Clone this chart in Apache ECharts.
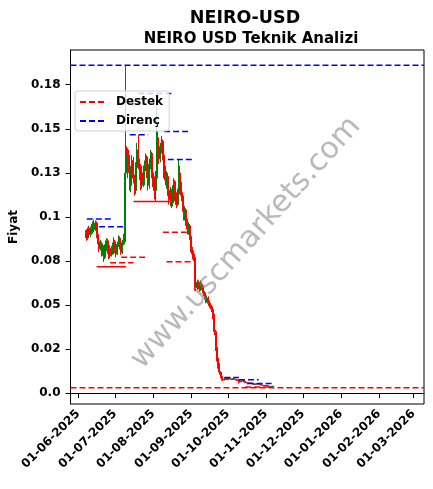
<!DOCTYPE html>
<html><head><meta charset="utf-8">
<script src="https://cdn.jsdelivr.net/npm/echarts@6/dist/echarts.min.js"></script>
<style>html,body{margin:0;padding:0;background:#fff}#c{width:433px;height:489px}</style>
</head><body><div id="c"></div>
<script>
const FONT = 'DejaVu Sans';
// Candles per month: [day, open, close, low, high]
const jun2025 = [
[7,0.0895,0.0910,0.0880,0.0925],[8,0.0910,0.0880,0.0865,0.0930],[9,0.0880,0.0925,0.0870,0.0940],
[10,0.0925,0.0900,0.0890,0.0950],[11,0.0900,0.0935,0.0885,0.0945],[12,0.0935,0.0915,0.0900,0.0960],
[13,0.0915,0.0950,0.0905,0.0975],[14,0.0950,0.0930,0.0915,0.0985],[15,0.0930,0.0965,0.0920,0.0980],
[16,0.0965,0.0900,0.0880,0.0975],[17,0.0900,0.0860,0.0845,0.0915],[18,0.0860,0.0820,0.0800,0.0880],
[19,0.0820,0.0850,0.0810,0.0870],[20,0.0850,0.0790,0.0775,0.0860],[21,0.0790,0.0830,0.0780,0.0845],
[22,0.0830,0.0770,0.0745,0.0840],[23,0.0770,0.0820,0.0760,0.0845],[24,0.0820,0.0865,0.0805,0.0880],
[25,0.0865,0.0800,0.0790,0.0875],[26,0.0800,0.0780,0.0760,0.0830],[27,0.0780,0.0820,0.0765,0.0840],
[28,0.0820,0.0790,0.0775,0.0835],[29,0.0790,0.0830,0.0785,0.0855],[30,0.0830,0.0860,0.0815,0.0885]
];
const jul2025 = [
[1,0.0860,0.0810,0.0795,0.0870],[2,0.0810,0.0790,0.0770,0.0825],[3,0.0790,0.0845,0.0785,0.0860],
[4,0.0845,0.0880,0.0830,0.0895],[5,0.0880,0.0830,0.0815,0.0890],[6,0.0830,0.0800,0.0785,0.0845],
[7,0.0800,0.0855,0.0790,0.0870],[8,0.0855,0.0860,0.0840,0.0905],[9,0.0860,0.1200,0.0845,0.1250],
[10,0.1400,0.1250,0.1150,0.1860],[11,0.1250,0.1350,0.1220,0.1390],[12,0.1350,0.1280,0.1250,0.1380],
[13,0.1280,0.1180,0.1150,0.1300],[14,0.1180,0.1260,0.1140,0.1290],[15,0.1260,0.1320,0.1230,0.1350],
[16,0.1320,0.1220,0.1190,0.1340],[17,0.1220,0.1150,0.1120,0.1240],[18,0.1150,0.1280,0.1130,0.1310],
[19,0.1280,0.1380,0.1260,0.1420],[20,0.1380,0.1300,0.1270,0.1466],[21,0.1300,0.1240,0.1210,0.1330],
[22,0.1240,0.1180,0.1150,0.1270],[23,0.1180,0.1250,0.1160,0.1290],[24,0.1250,0.1200,0.1170,0.1280],
[25,0.1200,0.1290,0.1180,0.1320],[26,0.1290,0.1340,0.1260,0.1360],[27,0.1340,0.1260,0.1220,0.1350],
[28,0.1260,0.1180,0.1150,0.1280],[29,0.1180,0.1300,0.1160,0.1330],[30,0.1300,0.1360,0.1270,0.1380],
[31,0.1360,0.1250,0.1220,0.1370]
];
const aug2025 = [
[1,0.1250,0.1200,0.1170,0.1280],[2,0.1200,0.1150,0.1100,0.1230],[3,0.1150,0.1220,0.1090,0.1260],
[4,0.1220,0.1450,0.1200,0.1690],[5,0.1450,0.1400,0.1360,0.1485],[6,0.1400,0.1330,0.1300,0.1430],
[7,0.1330,0.1390,0.1310,0.1420],[8,0.1390,0.1430,0.1360,0.1460],[9,0.1430,0.1350,0.1320,0.1440],
[10,0.1350,0.1260,0.1220,0.1370],[11,0.1260,0.1210,0.1180,0.1290],[12,0.1210,0.1230,0.1160,0.1260],
[13,0.1230,0.1150,0.1120,0.1250],[14,0.1150,0.1100,0.1070,0.1180],[15,0.1100,0.1140,0.1060,0.1170],
[16,0.1140,0.1080,0.1050,0.1160],[17,0.1080,0.1150,0.1060,0.1180],[18,0.1150,0.1200,0.1110,0.1220],
[19,0.1200,0.1120,0.1090,0.1210],[20,0.1120,0.1070,0.1050,0.1140],[21,0.1070,0.1130,0.1060,0.1160],
[22,0.1130,0.1250,0.1110,0.1326],[23,0.1250,0.1180,0.1150,0.1290],[24,0.1180,0.1120,0.1090,0.1200],
[25,0.1120,0.1060,0.1030,0.1140],[26,0.1060,0.1010,0.0980,0.1080],[27,0.1010,0.1040,0.0980,0.1060],
[28,0.1040,0.0970,0.0950,0.1050],[29,0.0970,0.0930,0.0900,0.0990],[30,0.0930,0.0950,0.0900,0.0970],
[31,0.0950,0.0890,0.0870,0.0960]
];
const sep2025 = [
[1,0.0890,0.0820,0.0800,0.0900],[2,0.0820,0.0790,0.0760,0.0830],[3,0.0790,0.0770,0.0750,0.0810],
[4,0.0770,0.0620,0.0580,0.0780],[5,0.0620,0.0600,0.0580,0.0640],[6,0.0600,0.0630,0.0585,0.0645],
[7,0.0630,0.0610,0.0590,0.0640],[8,0.0610,0.0590,0.0575,0.0625],[9,0.0590,0.0620,0.0580,0.0640],
[10,0.0620,0.0600,0.0585,0.0630],[11,0.0600,0.0570,0.0550,0.0610],[12,0.0570,0.0550,0.0530,0.0580],
[13,0.0550,0.0530,0.0510,0.0560],[14,0.0530,0.0540,0.0515,0.0555],[15,0.0540,0.0510,0.0495,0.0550],
[16,0.0510,0.0500,0.0485,0.0525],[17,0.0500,0.0490,0.0475,0.0510],[18,0.0490,0.0475,0.0460,0.0500],
[19,0.0475,0.0440,0.0420,0.0490],[20,0.0440,0.0350,0.0330,0.0450],[21,0.0350,0.0260,0.0240,0.0360],
[22,0.0260,0.0200,0.0180,0.0270],[23,0.0200,0.0160,0.0140,0.0215],[24,0.0160,0.0120,0.0105,0.0170],
[25,0.0120,0.0095,0.0085,0.0125],[26,0.0095,0.0080,0.0072,0.0098],[27,0.0080,0.0076,0.0070,0.0086],
[28,0.0076,0.0080,0.0072,0.0089],[29,0.0080,0.0084,0.0075,0.0089],[30,0.0084,0.0078,0.0074,0.0088]
];
const oct2025 = [
[1,0.0078,0.0082,0.0075,0.0086],[2,0.0082,0.0086,0.0079,0.0089],[3,0.0086,0.0081,0.0077,0.0088],
[4,0.0081,0.0079,0.0075,0.0084],[5,0.0079,0.0083,0.0076,0.0086],[6,0.0083,0.0080,0.0076,0.0085],
[7,0.0080,0.0077,0.0073,0.0082],[8,0.0077,0.0074,0.0070,0.0079],[9,0.0074,0.0076,0.0071,0.0078],
[10,0.0076,0.0068,0.0055,0.0077],[11,0.0068,0.0065,0.0060,0.0072],[12,0.0065,0.0070,0.0063,0.0074],
[13,0.0070,0.0072,0.0067,0.0077],[14,0.0072,0.0066,0.0062,0.0074],[15,0.0066,0.0063,0.0058,0.0068],
[16,0.0063,0.0060,0.0056,0.0065],[17,0.0060,0.0055,0.0050,0.0062],[18,0.0055,0.0057,0.0052,0.0059],
[19,0.0057,0.0058,0.0054,0.0060],[20,0.0058,0.0056,0.0053,0.0061],[21,0.0056,0.0052,0.0049,0.0058],
[22,0.0052,0.0050,0.0047,0.0054],[23,0.0050,0.0052,0.0048,0.0054],[24,0.0052,0.0053,0.0050,0.0055],
[25,0.0053,0.0051,0.0049,0.0055],[26,0.0051,0.0053,0.0049,0.0055],[27,0.0053,0.0050,0.0047,0.0055],
[28,0.0050,0.0047,0.0044,0.0051],[29,0.0047,0.0045,0.0043,0.0049],[30,0.0045,0.0043,0.0040,0.0047],
[31,0.0043,0.0044,0.0041,0.0046]
];
const nov2025 = [
[1,0.0044,0.0045,0.0042,0.0047],[2,0.0045,0.0043,0.0041,0.0046],[3,0.0043,0.0040,0.0037,0.0044],
[4,0.0040,0.0037,0.0034,0.0041],[5,0.0037,0.0038,0.0035,0.0040],[6,0.0038,0.0039,0.0036,0.0041],
[7,0.0039,0.0040,0.0037,0.0042]
];

// Support (Destek) and resistance (Direnç) levels: [from, to, price]
const supportDashed = [
['2025-06-27','2025-07-16',0.0740],
['2025-07-06','2025-07-28',0.0772],
['2025-08-09','2025-08-30',0.0913],
['2025-08-12','2025-09-02',0.0746],
['2025-10-15','2025-11-05',0.0036]
];
const supportSolid = [
['2025-06-16','2025-07-10',0.0717],
['2025-07-16','2025-08-15',0.1087]
];
const resistanceDashed = [
['2025-06-08','2025-06-28',0.0989],
['2025-06-18','2025-07-08',0.0945],
['2025-07-13','2025-07-28',0.1466],
['2025-07-20','2025-08-18',0.1700],
['2025-08-10','2025-08-30',0.1485],
['2025-08-13','2025-09-02',0.1326],
['2025-09-28','2025-10-10',0.0089],
['2025-10-10','2025-10-26',0.0077],
['2025-10-17','2025-11-06',0.0055]
];
const fullSupport = 0.0031;
const fullResistance = 0.1860;

const xTickDates = ['2025-06-01','2025-07-01','2025-08-01','2025-09-01','2025-10-01','2025-11-01','2025-12-01','2026-01-01','2026-02-01','2026-03-01'];
const xTickLabels = ['01-06-2025','01-07-2025','01-08-2025','01-09-2025','01-10-2025','01-11-2025','01-12-2025','01-01-2026','01-02-2026','01-03-2026'];
const yTickValues = [0, 0.025, 0.05, 0.075, 0.1, 0.125, 0.15, 0.175];
const yTickLabels = ['0.0','0.02','0.05','0.08','0.1','0.13','0.15','0.18'];

function ts(s, h) { const p = s.split('-').map(Number); return new Date(p[0], p[1]-1, p[2], h || 0).getTime(); }
const xMin = ts('2025-05-25', 18);
const xMax = ts('2026-03-09', 16);
const xTickTs = xTickDates.map(d => ts(d));

const months = [[2025,6,jun2025],[2025,7,jul2025],[2025,8,aug2025],[2025,9,sep2025],[2025,10,oct2025],[2025,11,nov2025]];
const candles = [];
months.forEach(([y,m,rows]) => rows.forEach(r => candles.push([new Date(y,m-1,r[0]).getTime(), r[1], r[2], r[3], r[4]])));

function segData(list) {
  const out = [];
  list.forEach(s => { out.push([ts(s[0]), s[2]]); out.push([ts(s[1]), s[2]]); out.push([ts(s[1]), '-']); });
  return out;
}

const RED = '#ff0000', BLUE = '#0000ff';
const dash = [6, 3];
const chart = echarts.init(document.getElementById('c'));
chart.setOption({
  animation: false,
  backgroundColor: '#fff',
  title: [
    { text: 'NEIRO-USD', left: 240, textAlign: 'center', top: 4, textStyle: { fontFamily: FONT, fontWeight: 'bold', fontSize: 17.5, color: '#000' } },
    { text: 'NEIRO USD Teknik Analizi', left: 246, textAlign: 'center', top: 27, textStyle: { fontFamily: FONT, fontWeight: 'bold', fontSize: 15, color: '#000' } }
  ],
  legend: {
    orient: 'vertical', left: 75, top: 91,
    padding: [4, 6, 3, 4], itemGap: 5, itemWidth: 26, itemHeight: 14,
    backgroundColor: 'rgba(255,255,255,0.8)', borderColor: '#d0d0d0', borderWidth: 1, borderRadius: 3,
    itemStyle: { color: 'rgba(0,0,0,0)', borderColor: 'rgba(0,0,0,0)', borderWidth: 0, opacity: 0 },
    textStyle: { fontFamily: FONT, fontWeight: 'bold', fontSize: 12, color: '#000', padding: [0,0,0,5], lineHeight: 14 },
    data: ['Destek', 'Direnç']
  },
  grid: { left: 68, right: 9, top: 50, bottom: 85, show: true, borderColor: '#000', borderWidth: 1, backgroundColor: 'transparent' },
  xAxis: {
    type: 'value', min: xMin, max: xMax, scale: true,
    splitLine: { show: false },
    axisLine: { lineStyle: { color: '#000', width: 1 } },
    axisTick: { show: true, length: 5, lineStyle: { color: '#000' }, customValues: xTickTs },
    axisLabel: {
      customValues: xTickTs,
      rotate: 45, margin: 8, fontFamily: FONT, fontWeight: 'bold', fontSize: 12, color: '#000',
      formatter: (v) => { const i = xTickTs.indexOf(v); return i >= 0 ? xTickLabels[i] : ''; }
    }
  },
  yAxis: {
    type: 'value', min: -0.0061, max: 0.1947, scale: true,
    name: 'Fiyat', nameLocation: 'middle', nameGap: 45, nameRotate: 90,
    nameTextStyle: { fontFamily: FONT, fontWeight: 'bold', fontSize: 12, color: '#000' },
    splitLine: { show: false },
    axisLine: { show: true, lineStyle: { color: '#000', width: 1 } },
    axisTick: { show: true, length: 5, lineStyle: { color: '#000' }, customValues: yTickValues },
    axisLabel: {
      customValues: yTickValues, margin: 10, fontFamily: FONT, fontWeight: 'bold', fontSize: 12, color: '#000',
      formatter: (v) => { const i = yTickValues.findIndex(t => Math.abs(t - v) < 1e-9); return i >= 0 ? yTickLabels[i] : ''; }
    }
  },
  graphic: [{
    type: 'text', x: 246, y: 243, rotation: 48 * Math.PI / 180, z: 100,
    style: { text: 'www.uscmarkets.com', fontFamily: FONT, fontSize: 30, fill: 'rgba(128,128,128,0.55)', align: 'center', verticalAlign: 'middle' }
  }],
  series: [
    {
      type: 'candlestick', name: 'NEIRO-USD', data: candles, barWidth: 1.5,
      itemStyle: { color: '#008000', color0: RED, borderColor: '#008000', borderColor0: RED, borderWidth: 1 }
    },
    { type: 'line', name: 'Destek', symbol: 'none', connectNulls: false, data: segData(supportDashed).concat([[xMin, fullSupport],[xMax, fullSupport]]),
      lineStyle: { color: RED, width: 1.5, type: dash }, itemStyle: { color: RED } },
    { type: 'line', name: 'Destek', symbol: 'none', connectNulls: false, data: segData(supportSolid),
      lineStyle: { color: RED, width: 1.5, type: 'solid' }, itemStyle: { color: RED } },
    { type: 'line', name: 'Direnç', symbol: 'none', connectNulls: false, data: segData(resistanceDashed).concat([[xMin, fullResistance],[xMax, fullResistance]]),
      lineStyle: { color: BLUE, width: 1.5, type: dash }, itemStyle: { color: BLUE } }
  ]
});
</script></body></html>
